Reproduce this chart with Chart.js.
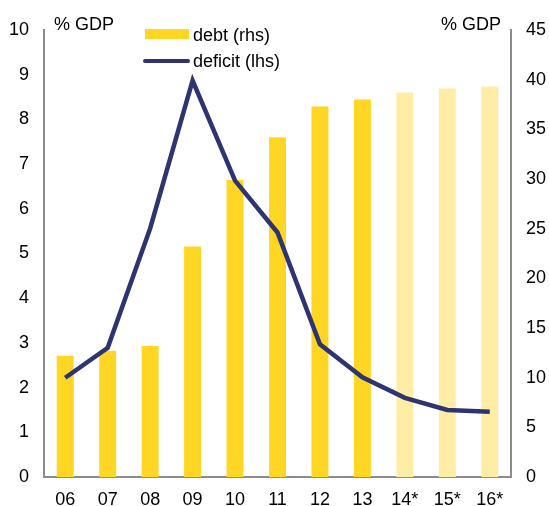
<!DOCTYPE html>
<html>
<head>
<meta charset="utf-8">
<script src="https://cdn.jsdelivr.net/npm/chart.js@4"></script>
<style>
  body { margin: 0; background: #fff; }
  #wrap { position: relative; width: 549px; height: 506px; font-family: "Liberation Sans", Arial, sans-serif; }
  .lbl { position: absolute; font-size: 18px; color: #000; line-height: 20px; white-space: nowrap; }
  .swatch { position: absolute; }
</style>
</head>
<body>
<div id="wrap">
  <canvas id="chart" width="549" height="506"></canvas>
  <div class="lbl" style="left:54px;top:14px;">% GDP</div>
  <div class="lbl" style="left:441px;top:14px;">% GDP</div>
  <div class="swatch" style="left:145px;top:29px;width:44px;height:10px;background:#FFD624;"></div>
  <div class="lbl" style="left:193px;top:25px;">debt (rhs)</div>
  <div class="swatch" style="left:143px;top:59px;width:47px;height:4px;background:#2E3470;border-radius:2px;"></div>
  <div class="lbl" style="left:193px;top:51px;">deficit (lhs)</div>
</div>
<script>
// Kategoriyalar (yillar)
const years = ['06', '07', '08', '09', '10', '11', '12', '13', '14*', '15*', '16*'];
// Qarz, % GDP (o'ng o'q)
const debt = [12.2, 12.7, 13.2, 23.2, 29.9, 34.2, 37.3, 38.0, 38.7, 39.1, 39.3];
// Defitsit, % GDP (chap o'q)
const deficit = [2.22, 2.89, 5.56, 8.87, 6.63, 5.47, 2.97, 2.23, 1.77, 1.50, 1.46];
// Prognoz yillari (och rang)
const forecast = [false, false, false, false, false, false, false, false, true, true, true];

const leftTicks = { min: 0, max: 10, step: 1 };
const rightTicks = { min: 0, max: 45, step: 5 };

const axisColor = '#8C8C8C';
const tickFont = { family: 'Liberation Sans', size: 18 };

const ctx = document.getElementById('chart').getContext('2d');
new Chart(ctx, {
    type: 'bar',
    data: {
        labels: years,
        datasets: [
            {
                type: 'line',
                label: 'deficit (lhs)',
                data: deficit,
                yAxisID: 'y',
                borderColor: '#2E3470',
                borderWidth: 4.5,
                pointRadius: 0,
                tension: 0,
                borderJoinStyle: 'miter',
                order: 0
            },
            {
                type: 'bar',
                label: 'debt (rhs)',
                data: debt,
                yAxisID: 'y1',
                backgroundColor: forecast.map(f => f ? '#FFEDA6' : '#FFD624'),
                barPercentage: 0.4,
                categoryPercentage: 1,
                order: 1
            }
        ]
    },
    options: {
        responsive: false,
        animation: false,
        layout: { padding: { top: 30, left: 0, right: 0, bottom: 0 } },
        plugins: { legend: { display: false }, tooltip: { enabled: false } },
        scales: {
            x: {
                grid: { display: false, drawTicks: false },
                border: { display: true, color: axisColor, width: 2 },
                ticks: { color: '#000', font: tickFont, padding: 12, maxRotation: 0 },
                afterFit: s => { s.height = 29; }
            },
            y: {
                position: 'left',
                min: leftTicks.min, max: leftTicks.max,
                grid: { display: false, drawTicks: false },
                border: { display: true, color: axisColor, width: 2 },
                ticks: { stepSize: leftTicks.step, color: '#000', font: tickFont, padding: 15 },
                afterFit: s => { s.width = 44; }
            },
            y1: {
                position: 'right',
                min: rightTicks.min, max: rightTicks.max,
                grid: { display: false, drawTicks: false },
                border: { display: true, color: axisColor, width: 2 },
                ticks: { stepSize: rightTicks.step, color: '#000', font: tickFont, padding: 15 },
                afterFit: s => { s.width = 38; }
            }
        }
    }
});
</script>
</body>
</html>
